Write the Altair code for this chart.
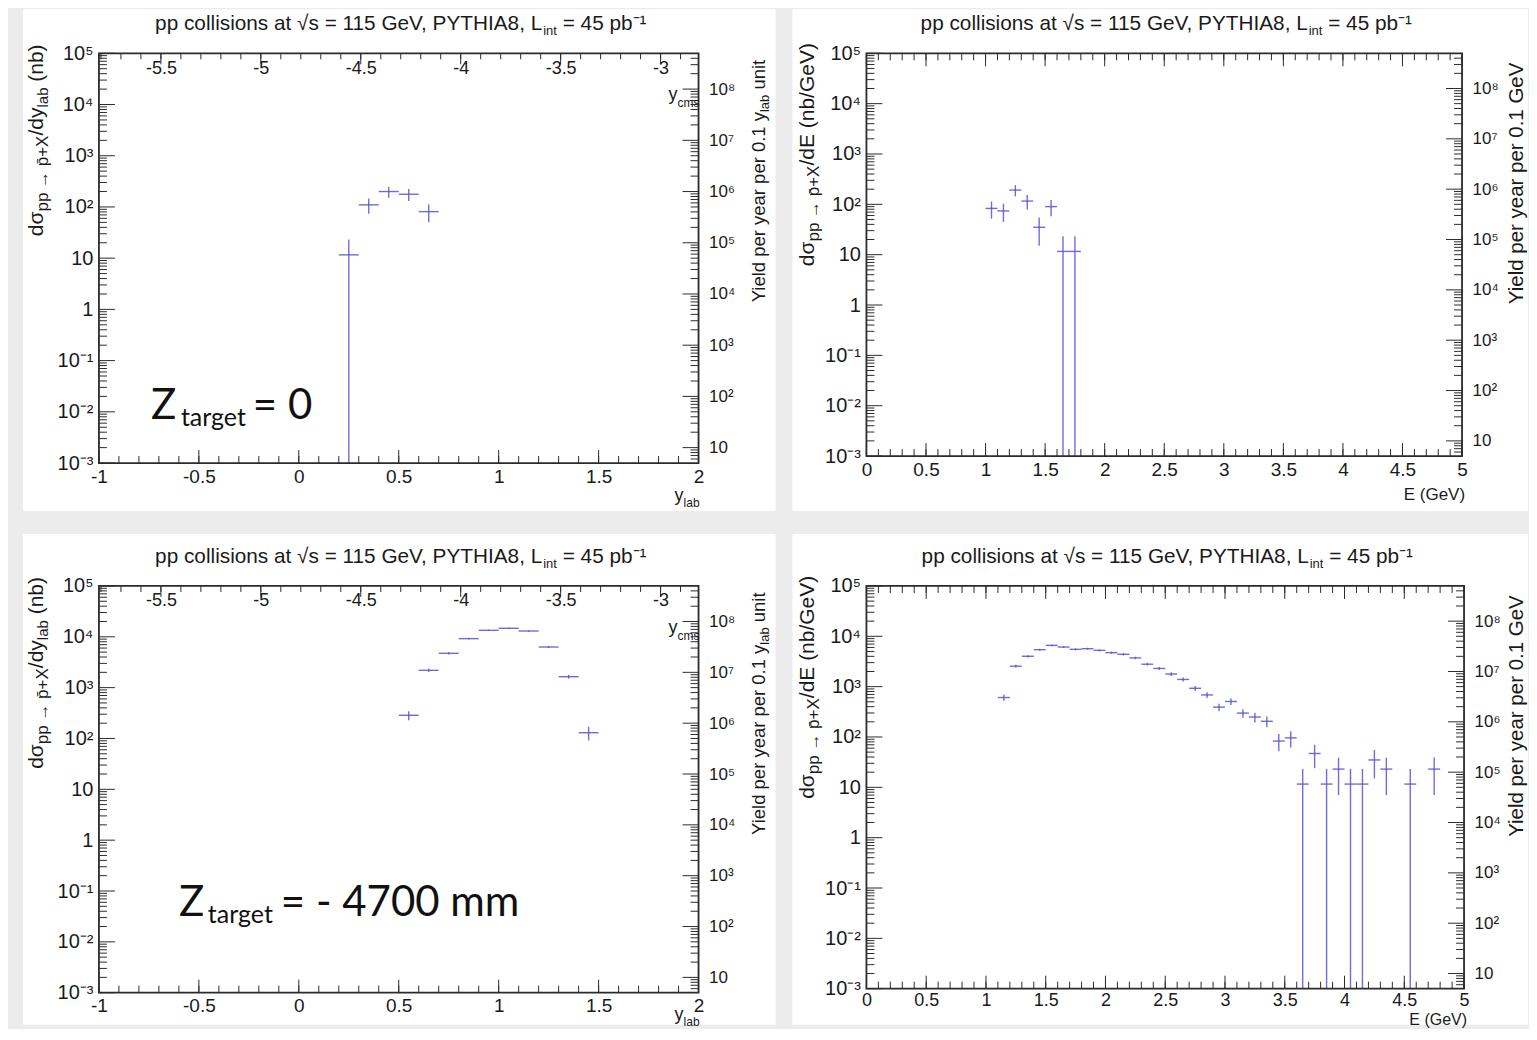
import json
import numpy as np
import pandas as pd
import altair as alt

# ------------------------------------------------------------------
# values (bin centre, bin content, error)
# ------------------------------------------------------------------
# Z_target = 0 : d sigma / d y_lab (nb)
tl_ylab = [0.25, 0.35, 0.45, 0.55, 0.65]
tl_sig = [11.6, 110, 200, 177, 81]
tl_err = [11.6, 36, 48, 46, 31]

# Z_target = 0 : d sigma / dE (nb/GeV)
tr_E = [1.05, 1.15, 1.25, 1.35, 1.45, 1.55, 1.65, 1.75]
tr_sig = [83, 74, 192, 116, 35, 90, 11.6, 11.6]
tr_err = [31, 29, 48, 37, 20, 32, 11.6, 11.6]

# Z_target = -4700 mm : d sigma / d y_lab (nb)
bl_ylab = [0.55, 0.65, 0.75, 0.85, 0.95, 1.05, 1.15, 1.25, 1.35, 1.45]
bl_sig = [286, 2190, 4730, 9200, 13400, 14700, 13000, 6300, 1640, 130]
bl_err = [58, 159, 234, 327, 394, 413, 388, 270, 138, 39]

# Z_target = -4700 mm : d sigma / dE (nb/GeV)
br_E = [1.15, 1.25, 1.35, 1.45, 1.55, 1.65, 1.75, 1.85, 1.95, 2.05,
        2.15, 2.25, 2.35, 2.45, 2.55, 2.65, 2.75, 2.85, 2.95, 3.05,
        3.15, 3.25, 3.35, 3.45, 3.55, 3.65, 3.75, 3.85, 3.95, 4.05,
        4.15, 4.25, 4.35, 4.55, 4.75]
br_sig = [608, 2550, 4010, 5420, 6600, 6120, 5510, 5670, 5260, 4730,
          4390, 3720, 2790, 2300, 1780, 1390, 927, 685, 392, 507,
          298, 249, 205, 83, 96, 11.6, 47, 11.6, 23, 11.6,
          11.6, 35, 23, 11.6, 23]
br_err = [84, 172, 216, 251, 277, 266, 253, 256, 247, 234,
          226, 208, 180, 163, 144, 127, 104, 89, 67, 77,
          58, 54, 49, 31, 34, 11.6, 23, 11.6, 16, 11.6,
          11.6, 20, 16, 11.6, 16]

# axis tick values and labels
dec_vals = [1e-3, 1e-2, 1e-1, 1, 10, 1e2, 1e3, 1e4, 1e5]
dec_labels = ["10⁻³", "10⁻²", "10⁻¹", "1", "10", "10²", "10³", "10⁴", "10⁵"]
yield_vals = [10, 1e2, 1e3, 1e4, 1e5, 1e6, 1e7, 1e8]
yield_labels = ["10", "10²", "10³", "10⁴", "10⁵", "10⁶", "10⁷", "10⁸"]
ylab_major = [-1, -0.5, 0, 0.5, 1, 1.5, 2]
ycms_major = [-5.5, -5, -4.5, -4, -3.5, -3]
E_major = [0, 0.5, 1, 1.5, 2, 2.5, 3, 3.5, 4, 4.5, 5]

SIG_DOMAIN = [1e-3, 1e5]
YIELD_FACTOR = 5000.0
YIELD_DOMAIN = [SIG_DOMAIN[0] * YIELD_FACTOR, SIG_DOMAIN[1] * YIELD_FACTOR]
YLAB_DOMAIN = [-1.0, 2.0]
E_DOMAIN = [0.0, 5.0]
YCMS_SHIFT = -4.81
HALF_BIN = 0.05

TITLE_MAIN = "pp collisions at √s = 115 GeV, PYTHIA8, L"
TITLE_SUB = "int"
TITLE_END = "= 45 pb⁻¹"

# ------------------------------------------------------------------
FONT = "Liberation Sans"
ZFONT = "Lato"
AXC = "#2b2b2b"
TXT = "#1a1a1a"
DATC = "#5353d4"
ONE = pd.DataFrame({"a": [0]})
TY_MAJ, TY_MIN, TX_MAJ, TX_MIN = 16, 8, 13, 7

EM = {" ": 0.278, "(": 0.333, ")": 0.333, "+": 0.584, "-": 0.333, ".": 0.278,
      "/": 0.278, ",": 0.278, "=": 0.584, "√": 0.549, "→": 1.0, "σ": 0.57,
      "\u0304": 0.0, "⁻": 0.35, "¹": 0.35, "i": 0.222, "l": 0.222, "t": 0.278,
      "r": 0.333, "f": 0.278, "j": 0.222, "m": 0.833, "w": 0.722, "s": 0.5,
      "c": 0.5, "y": 0.5, "k": 0.5, "v": 0.5, "x": 0.5, "z": 0.5, "G": 0.778,
      "H": 0.722, "I": 0.278, "T": 0.611, "L": 0.556, "Z": 0.611}


def tw(s, size):
    w = 0.0
    for c in s:
        if c in EM:
            w += EM[c]
        elif c.isdigit():
            w += 0.556
        elif c.isupper():
            w += 0.667
        else:
            w += 0.556
    return w * size


def minor_log(lo, hi):
    out = []
    k = int(np.floor(np.log10(lo)))
    while 10.0 ** k <= hi:
        for m in range(2, 10):
            v = m * 10.0 ** k
            if lo < v < hi:
                out.append(v)
        k += 1
    return out


def lin_vals(lo, hi, step):
    a = int(np.ceil(lo / step - 1e-6))
    b = int(np.floor(hi / step + 1e-6))
    return [round(i * step, 6) for i in range(a, b + 1)]


def txt(t, x, y, size, align="left", baseline="alphabetic", angle=0, font=FONT, color=TXT):
    kw = dict(text=t, font=font, fontSize=size, align=align, baseline=baseline, color=color)
    if angle:
        kw["angle"] = angle
    return alt.Chart(ONE).mark_text(**kw).encode(x=alt.value(x), y=alt.value(y))


def vrun(first, rest, xb, y0, sub_dx=5):
    """Rotated (bottom-to-top) text: first piece ends at a junction, the
    following pieces start there; (text, size, is_sub, lead_space)."""
    t, s, sub = first
    j = y0 - tw(t, s)
    out = [txt(t, xb + (sub_dx if sub else 0), j, s, align="right", angle=270)]
    y = j
    for t, s, sub, lead in rest:
        y -= lead * 0.278 * s
        out.append(txt(t, xb + (sub_dx if sub else 0), y, s, angle=270))
        y -= tw(t, s)
    return out


left_expr = json.dumps(dec_labels, ensure_ascii=False) + "[round(log(datum.value)/LN10)+3]"
right_expr = json.dumps(yield_labels, ensure_ascii=False) + "[round(log(datum.value)/LN10)-1]"
num_expr = "'' + datum.value"


def panel(kind, xs, sig, err, W, H, rect, bottom, zpieces):
    xdom = YLAB_DOMAIN if kind == "y" else E_DOMAIN
    tdom = [xdom[0] + YCMS_SHIFT, xdom[1] + YCMS_SHIFT]
    xsc = alt.Scale(domain=xdom, nice=False, zero=False)
    tsc = alt.Scale(domain=tdom, nice=False, zero=False)
    ssc = alt.Scale(type="log", domain=SIG_DOMAIN, nice=False)
    ysc = alt.Scale(type="log", domain=YIELD_DOMAIN, nice=False)
    xmaj = ylab_major if kind == "y" else E_major
    tight = bottom and kind == "E"

    L = []
    L.append(alt.Chart(ONE).mark_rect(color="white").encode(
        x=alt.value(rect[0]), x2=alt.value(rect[1]), y=alt.value(rect[2]), y2=alt.value(rect[3])))

    def tick_y(vals, scale, x0, x1):
        return alt.Chart(pd.DataFrame({"v": vals})).mark_rule(color=AXC, strokeWidth=1).encode(
            y=alt.Y("v:Q", scale=scale, axis=None), x=alt.value(x0), x2=alt.value(x1))

    def tick_x(vals, scale, y0, y1):
        return alt.Chart(pd.DataFrame({"v": vals})).mark_rule(color=AXC, strokeWidth=1).encode(
            x=alt.X("v:Q", scale=scale, axis=None), y=alt.value(y0), y2=alt.value(y1))

    L += [tick_y(dec_vals, ssc, 0, TY_MAJ), tick_y(minor_log(*SIG_DOMAIN), ssc, 0, TY_MIN),
          tick_y(yield_vals, ysc, W - TY_MAJ, W), tick_y(minor_log(*YIELD_DOMAIN), ysc, W - TY_MIN, W),
          tick_x(xmaj, xsc, H - TX_MAJ, H), tick_x(lin_vals(xdom[0], xdom[1], 0.1), xsc, H - TX_MIN, H)]
    if kind == "y":
        L += [tick_x(ycms_major, tsc, 0, TX_MAJ - 2), tick_x(lin_vals(tdom[0], tdom[1], 0.1), tsc, 0, TX_MIN - 1)]
    else:
        L += [tick_x(xmaj, xsc, 0, TX_MAJ), tick_x(lin_vals(xdom[0], xdom[1], 0.1), xsc, 0, TX_MIN)]

    common = dict(ticks=False, tickSize=0, domain=False, grid=False, labelFlush=False,
                  labelOverlap=False, title=None, zindex=2, labelFont=FONT, labelColor=TXT)
    L.append(alt.Chart(pd.DataFrame({"x": [xdom[0]], "y": [1.0]})).mark_point(opacity=0).encode(
        x=alt.X("x:Q", scale=xsc, axis=alt.Axis(orient="bottom", values=xmaj, labelExpr=num_expr,
                                                 labelPadding=3 if tight else 4,
                                                 labelFontSize=18 if tight else 19, **common)),
        y=alt.Y("y:Q", scale=ssc, axis=alt.Axis(orient="left", values=dec_vals, labelExpr=left_expr,
                                                 labelPadding=6, labelFontSize=20, **common))))
    if kind == "y":
        xenc = alt.X("x:Q", scale=tsc, axis=alt.Axis(orient="bottom", offset=-H, values=ycms_major,
                                                      labelExpr=num_expr, labelPadding=6,
                                                      labelFontSize=18, **common))
    else:
        xenc = alt.X("x:Q", scale=tsc, axis=None)
    L.append(alt.Chart(pd.DataFrame({"x": [tdom[0]], "y": [10.0]})).mark_point(opacity=0).encode(
        x=xenc,
        y=alt.Y("y:Q", scale=ysc, axis=alt.Axis(orient="right", values=yield_vals, labelExpr=right_expr,
                                                 labelPadding=10, labelFontSize=17, **common))))

    df = pd.DataFrame({"x": xs, "v": sig, "e": err})
    df["xlo"] = df["x"] - HALF_BIN
    df["xhi"] = df["x"] + HALF_BIN
    df["lo"] = (df["v"] - df["e"]).clip(lower=SIG_DOMAIN[0])
    df["hi"] = df["v"] + df["e"]
    L.append(alt.Chart(df).mark_rule(color=DATC, strokeWidth=1.4, opacity=0.85).encode(
        x=alt.X("xlo:Q", scale=xsc, axis=None), x2="xhi:Q", y=alt.Y("v:Q", scale=ssc, axis=None)))
    L.append(alt.Chart(df).mark_rule(color=DATC, strokeWidth=1.4, opacity=0.85).encode(
        x=alt.X("x:Q", scale=xsc, axis=None), y=alt.Y("lo:Q", scale=ssc, axis=None), y2="hi:Q"))

    # frame
    L.append(alt.Chart(ONE).mark_rect(fillOpacity=0, stroke=AXC, strokeWidth=1.8).encode(
        x=alt.value(0), x2=alt.value(W), y=alt.value(0), y2=alt.value(H)))

    # panel title
    ts, ss = 20.8, 13
    total = tw(TITLE_MAIN, ts) + tw(TITLE_SUB, ss) + tw(" " + TITLE_END, ts)
    xa = W / 2 - total / 2 + tw(TITLE_MAIN, ts)
    L.append(txt(TITLE_MAIN, xa, -23, ts, align="right"))
    L.append(txt(TITLE_SUB, xa + 1, -18, ss))
    L.append(txt(TITLE_END, xa + 1 + tw(TITLE_SUB, ss) + 0.278 * ts, -23, ts))

    # axis titles
    if kind == "y":
        L += vrun(("dσ", 21, False),
                  [("pp → p\u0304+X", 17, True, 0), ("/dy", 21, False, 0),
                   ("lab", 15, True, 0), ("(nb)", 21, False, 1)], -56, 182)
        L += vrun(("Yield per year per 0.1 y", 18.5, False),
                  [("lab", 13, True, 0), ("unit", 18.5, False, 1)], 666, 250)
        yb = H + (27 if bottom else 38)
        L.append(txt("y", 585, yb, 18, align="right"))
        L.append(txt("lab", 585, yb + 6, 12))
        L.append(txt("y", 579, 47, 18, align="right"))
        L.append(txt("cms", 579, 54, 12))
    else:
        L += vrun(("dσ", 21, False),
                  [("pp → p\u0304+X", 17, True, 0), ("/dE (nb/GeV)", 21, False, 0)], -52, 212)
        L += vrun(("Yield per year per 0.1 GeV", 20.5, False), [], 657, 252)
        if bottom:
            L.append(txt("E (GeV)", W + 3, H + 36, 16, align="right"))
        else:
            L.append(txt("E (GeV)", W + 3, H + 44, 17, align="right"))

    for t, x, y, s in zpieces:
        L.append(txt(t, x, y, s, font=ZFONT, color="#111111"))

    return alt.layer(*L).resolve_scale(x="independent", y="independent").properties(width=W, height=H)


tl = panel("y", tl_ylab, tl_sig, tl_err, 600, 410, (-76, 677, -44, 458), False,
           [("Z", 52, 366, 42), ("target", 82, 373, 25), ("= 0", 154, 366, 42)])
tr = panel("E", tr_E, tr_sig, tr_err, 596, 403, (-74, 662, -44, 458), False, [])
bl = panel("y", bl_ylab, bl_sig, bl_err, 600, 407, (-76, 677, -52, 439), True,
           [("Z", 80, 330, 42), ("target", 109, 337, 25), ("= - 4700 mm", 182, 330, 42)])
br = panel("E", br_E, br_sig, br_err, 598, 403, (-74, 662, -52, 439), True, [])

chart = alt.concat(tl, tr, bl, br, columns=2, spacing={"row": 123, "column": 168}, bounds="flush").properties(
    padding={"left": 14, "top": 0, "right": 0, "bottom": 0}, background="#ececec"
).configure_view(stroke="transparent").configure_axis(
    zindex=2, labelFont=FONT, labelFontSize=18, labelColor=TXT)

chart.save("out.html", embed_options={"renderer": "svg", "actions": False})
